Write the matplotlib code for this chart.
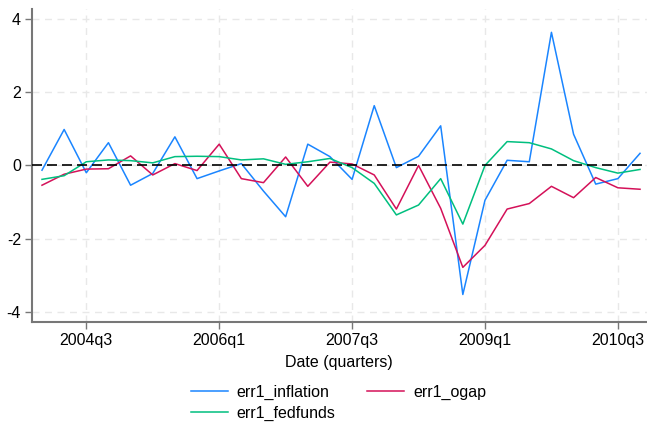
import matplotlib
matplotlib.use("Agg")
import matplotlib.pyplot as plt
import pandas as pd

plt.rcParams["font.family"] = ["Liberation Sans", "DejaVu Sans"]
plt.rcParams["axes.unicode_minus"] = False

# forecast errors by quarter, 2004q1 .. 2010q4
quarters = pd.period_range("2004Q1", periods=28, freq="Q")
err1_inflation = [-0.13, 0.98, -0.20, 0.62, -0.54, -0.22, 0.78, -0.36, -0.15, 0.05,
                  -0.70, -1.40, 0.58, 0.24, -0.38, 1.63, -0.06, 0.25, 1.08, -3.52,
                  -0.95, 0.14, 0.10, 3.63, 0.85, -0.51, -0.36, 0.33]
err1_ogap = [-0.54, -0.24, -0.10, -0.09, 0.26, -0.26, 0.05, -0.14, 0.58, -0.36,
             -0.47, 0.23, -0.57, 0.09, 0.04, -0.26, -1.19, 0.00, -1.17, -2.78,
             -2.18, -1.19, -1.04, -0.57, -0.88, -0.33, -0.61, -0.65]
err1_fedfunds = [-0.38, -0.28, 0.10, 0.15, 0.13, 0.07, 0.24, 0.25, 0.24, 0.15,
                 0.18, 0.03, 0.10, 0.19, -0.06, -0.49, -1.35, -1.08, -0.36, -1.60,
                 0.00, 0.65, 0.62, 0.45, 0.13, -0.06, -0.21, -0.11]
tick_quarters = ["2004Q3", "2006Q1", "2007Q3", "2009Q1", "2010Q3"]
yticks = [-4, -2, 0, 2, 4]

x = list(range(len(quarters)))
qpos = {str(q): i for i, q in enumerate(quarters)}
xticks = [qpos[q] for q in tick_quarters]
xticklabels = [q.replace("Q", "q") for q in tick_quarters]

fig = plt.figure(figsize=(6.47, 4.22), dpi=100)
ax = fig.add_axes([0.0495, 0.237, 0.95, 0.742])

for v in xticks:
    ax.axvline(v, color="#e8e8e8", lw=1.0, ls=(0, (5, 4)), zorder=0)
for v in yticks:
    ax.axhline(v, color="#e8e8e8", lw=1.0, ls=(0, (5, 4)), zorder=0)
ax.axhline(0, color="black", lw=1.2, ls=(0, (6, 3)), zorder=3)

l1, = ax.plot(x, err1_inflation, color="#1a85ff", lw=1.1, label="err1_inflation")
l2, = ax.plot(x, err1_ogap, color="#d41159", lw=1.1, label="err1_ogap")
l3, = ax.plot(x, err1_fedfunds, color="#00bf7f", lw=1.1, label="err1_fedfunds")

ax.set_xlim(-0.45, 27.3)
ax.set_ylim(-4.27, 4.27)
ax.set_xticks(xticks)
ax.set_xticklabels(xticklabels)
ax.set_yticks(yticks)
ax.tick_params(axis="both", direction="out", length=5, width=1.0, color="#777777",
               labelsize=11.5, pad=3)
for side in ("top", "right"):
    ax.spines[side].set_visible(False)
for side in ("left", "bottom"):
    ax.spines[side].set_color("#777777")
    ax.spines[side].set_linewidth(1.5)
ax.set_xlabel("Date (quarters)", fontsize=11.5, labelpad=5)

fig.legend([l1, l3, l2], ["err1_inflation", "err1_fedfunds", "err1_ogap"],
           ncol=2, frameon=False, loc="upper center", bbox_to_anchor=(0.523, 0.103),
           fontsize=11.5, handlelength=2.3, columnspacing=2.0, labelspacing=0.36,
           handletextpad=0.56, borderaxespad=0.0)

fig.savefig("out.png", dpi=100)
